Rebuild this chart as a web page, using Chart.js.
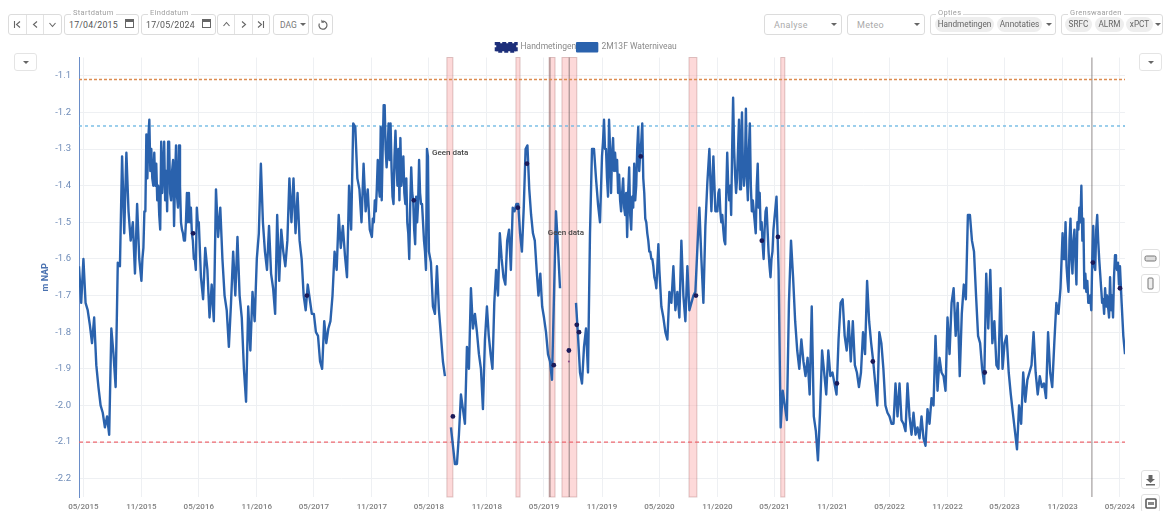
<!DOCTYPE html>
<html>
<head>
<meta charset="utf-8">
<title>2M13F Waterniveau</title>
<script src="https://cdn.jsdelivr.net/npm/chart.js@4/dist/chart.umd.min.js"></script>
<style>
html, body { margin: 0; padding: 0; background: #fff; }
#page { position: relative; width: 1164px; height: 511px; overflow: hidden; font-family: Roboto, sans-serif; color: #777; filter: blur(0.55px); }
#myChart { position: absolute; left: 0; top: 0; }
.box { position: absolute; box-sizing: border-box; background: #fff; border: 1px solid #dcdcdc; border-radius: 3px; font-size: 8.8px; display: flex; align-items: center; justify-content: center; height: 21px; top: 14px; }
.box .cell { flex: 1; border-right: 1px solid #e2e2e2; height: 100%; display: flex; align-items: center; justify-content: center; }
.box .cell:last-child { border-right: 0; }
.box .cell svg { fill: none; stroke: #666; stroke-width: 1.1; }
.field { justify-content: flex-start; padding-left: 4px; color: #555; letter-spacing: .2px; }
.legendlabel { position: absolute; top: 8px; font-size: 7.5px; background: #fff; padding: 0 2px; color: #a0a0a0; letter-spacing: .3px; }
.cal { position: absolute; top: 4px; width: 9px; height: 9px; border: 1.5px solid #666; border-top-width: 3px; box-sizing: border-box; }
.caret { position: absolute; top: 8px; width: 0; height: 0; border-left: 3px solid transparent; border-right: 3px solid transparent; border-top: 3.5px solid #666; }
.chip { position: absolute; top: 2px; height: 15px; line-height: 15px; background: #eeeeee; border-radius: 8px; text-align: center; font-size: 8.2px; color: #666; }
.side { position: absolute; box-sizing: border-box; width: 19px; height: 19px; left: 1141px; background: #fff; border: 1px solid #e0e0e0; border-radius: 3px; display: flex; align-items: center; justify-content: center; }
.drop { position: absolute; box-sizing: border-box; top: 53px; width: 23px; height: 18px; background: #fff; border: 1px solid #e4e4e4; border-radius: 3px; }
.drop .caret { left: 8px; top: 7px; }
</style>
</head>
<body>
<div id="page">
  <canvas id="myChart" width="1164" height="511"></canvas>

  <div class="box" style="left:8px;width:54px">
    <div class="cell"><svg width="9" height="9"><path d="M1.5 1v7M7 1.5L3.5 4.5L7 7.5"/></svg></div>
    <div class="cell"><svg width="9" height="9"><path d="M6 1.5L2.5 4.5L6 7.5"/></svg></div>
    <div class="cell"><svg width="9" height="9"><path d="M1.5 3L4.5 6.5L7.5 3"/></svg></div>
  </div>
  <div class="box field" style="left:64px;width:75px">17/04/2015<span class="cal" style="left:60px"></span></div>
  <span class="legendlabel" style="left:71px">Startdatum</span>
  <div class="box field" style="left:141px;width:75px">17/05/2024<span class="cal" style="left:60px"></span></div>
  <span class="legendlabel" style="left:148px">Einddatum</span>
  <div class="box" style="left:217px;width:53px">
    <div class="cell"><svg width="9" height="9"><path d="M1.5 6L4.5 2.5L7.5 6"/></svg></div>
    <div class="cell"><svg width="9" height="9"><path d="M3 1.5L6.5 4.5L3 7.5"/></svg></div>
    <div class="cell"><svg width="9" height="9"><path d="M7.5 1v7M2 1.5L5.5 4.5L2 7.5"/></svg></div>
  </div>
  <div class="box" style="left:273px;width:36px;justify-content:flex-start;padding-left:6px;font-size:8.5px">DAG<span class="caret" style="left:26px"></span></div>
  <div class="box" style="left:312px;width:21px">
    <svg width="12" height="12" viewBox="0 0 12 12"><path d="M6 2.2a4 4 0 1 1-3.6 2.2" fill="none" stroke="#666" stroke-width="1.2"/><path d="M4.4 0.6v3.2h3z" fill="#666"/></svg>
  </div>

  <div class="box field" style="left:764px;width:78px;padding-left:9px;color:#aaa;letter-spacing:.3px;font-size:9px">Analyse<span class="caret" style="left:66px"></span></div>
  <div class="box field" style="left:847px;width:78px;padding-left:9px;color:#aaa;letter-spacing:.3px;font-size:9px">Meteo<span class="caret" style="left:66px"></span></div>
  <div class="box" style="left:930px;width:126px">
    <span class="chip" style="left:4px;width:59px">Handmetingen</span>
    <span class="chip" style="left:66px;width:45px">Annotaties</span>
    <span class="caret" style="left:115px"></span>
  </div>
  <span class="legendlabel" style="left:936px">Opties</span>
  <div class="box" style="left:1061px;width:102px">
    <span class="chip" style="left:3px;width:27px">SRFC</span>
    <span class="chip" style="left:33px;width:29px">ALRM</span>
    <span class="chip" style="left:64px;width:27px">xPCT</span>
    <span class="caret" style="left:93px"></span>
  </div>
  <span class="legendlabel" style="left:1068px">Grenswaarden</span>

  <div class="drop" style="left:14px"><span class="caret"></span></div>
  <div class="drop" style="left:1139px"><span class="caret"></span></div>

  <div class="side" style="top:249px"><svg width="13" height="9"><rect x="1" y="2" width="11" height="5" rx="1.5" fill="#ddd" stroke="#777"/></svg></div>
  <div class="side" style="top:274px"><svg width="9" height="13"><rect x="2" y="1" width="5" height="11" rx="1" fill="#eee" stroke="#777"/></svg></div>
  <div class="side" style="top:470px"><svg width="11" height="12"><path d="M3.5 1h4v4h2.5l-4.5 4-4.5-4h2.5z" fill="#666"/><rect x="1" y="10" width="9" height="1.5" fill="#666"/></svg></div>
  <div class="side" style="top:494px"><svg width="12" height="11"><rect x="1" y="1" width="10" height="9" rx="1" fill="none" stroke="#555" stroke-width="1.5"/><rect x="3" y="4" width="6" height="3" fill="#888"/></svg></div>
</div>

<script>
// grenswaarden en assen
const yTicks = [-1.1, -1.2, -1.3, -1.4, -1.5, -1.6, -1.7, -1.8, -1.9, -2.0, -2.1, -2.2];
const xTicks = ['2015-05-01', '2015-11-01', '2016-05-01', '2016-11-01', '2017-05-01', '2017-11-01', '2018-05-01',
    '2018-11-01', '2019-05-01', '2019-11-01', '2020-05-01', '2020-11-01', '2021-05-01', '2021-11-01', '2022-05-01',
    '2022-11-01', '2023-05-01', '2023-11-01', '2024-05-01'];
const startDate = '2015-04-17';
const endDate = '2024-05-17';
const srfcLevel = -1.11;
const alrmLevel = -1.237;
const xpctLevel = -2.10;

// waterniveau per periode, de waarden liggen gelijkmatig binnen de periode
const periodStarts = [startDate, ...xTicks];
const level0 = [-1.62, -1.72];
const level1 = [-1.60, -1.72, -1.74, -1.78, -1.83, -1.76, -1.89, -1.95, -2.00, -2.02, -2.06, -2.03, -2.08, -1.79, -1.86, -1.95, -1.61, -1.62, -1.32, -1.53, -1.31, -1.47, -1.55, -1.50, -1.64, -1.45, -1.60];
const level2 = [-1.66, -1.60, -1.57, -1.47, -1.47, -1.26, -1.38, -1.27, -1.22, -1.36, -1.30, -1.38, -1.40, -1.31, -1.40, -1.34, -1.44, -1.40, -1.48, -1.52, -1.28, -1.42, -1.36, -1.28, -1.44, -1.36, -1.47, -1.28, -1.28, -1.42, -1.44, -1.36, -1.33, -1.51, -1.38, -1.29, -1.43, -1.46, -1.29, -1.40, -1.50, -1.52, -1.53, -1.55, -1.55, -1.50, -1.42, -1.50, -1.42, -1.50, -1.46, -1.53, -1.55, -1.60, -1.60, -1.63, -1.46, -1.50];
const level3 = [-1.50, -1.65, -1.71, -1.57, -1.63, -1.76, -1.67, -1.77, -1.41, -1.54, -1.46, -1.60, -1.70, -1.74, -1.84, -1.72, -1.58, -1.70, -1.54, -1.70, -1.76, -1.90, -1.99, -1.73, -1.85, -1.69, -1.77];
const level4 = [-1.60, -1.53, -1.34, -1.50, -1.58, -1.63, -1.51, -1.64, -1.68, -1.75, -1.48, -1.66, -1.52, -1.58, -1.62, -1.55, -1.38, -1.50, -1.38, -1.53, -1.42, -1.55, -1.60, -1.70, -1.74, -1.67, -1.71, -1.75];
const level5 = [-1.75, -1.80, -1.81, -1.88, -1.90, -1.77, -1.83, -1.79, -1.77, -1.70, -1.58, -1.63, -1.48, -1.57, -1.51, -1.59, -1.65, -1.40, -1.52, -1.23, -1.24, -1.38, -1.41, -1.50, -1.34, -1.47, -1.41, -1.52];
const level6 = [-1.54, -1.49, -1.50, -1.44, -1.47, -1.41, -1.33, -1.40, -1.43, -1.24, -1.44, -1.30, -1.18, -1.18, -1.30, -1.35, -1.30, -1.23, -1.33, -1.23, -1.35, -1.43, -1.45, -1.32, -1.25, -1.34, -1.40, -1.30, -1.44, -1.27, -1.40, -1.36, -1.32, -1.42, -1.45, -1.38, -1.50, -1.53, -1.60, -1.45, -1.35, -1.42, -1.44, -1.52, -1.56, -1.43, -1.50, -1.45, -1.33, -1.42, -1.45, -1.45, -1.50, -1.55, -1.58, -1.63, -1.30, -1.32];
const level7 = [-1.58, -1.61, -1.73, -1.75, -1.62, -1.74, -1.81, -1.88, -1.92, null, null, -2.06, -2.11, -2.16, -2.16, -2.08, -1.97, -2.01, -2.05, -1.84, -1.90, -1.68, -1.79, -1.75, -1.80, -1.86, -1.90, -2.01, -1.82];
const level8 = [-1.73, -1.81, -1.86, -1.90, -1.72, -1.63, -1.70, -1.53, -1.60, -1.65, -1.67, -1.55, -1.52, -1.63, -1.46, -1.47, -1.45, -1.45, -1.53, -1.58, -1.46, -1.30, -1.29, -1.41, -1.48, -1.53, -1.55, -1.63, -1.70, -1.64, -1.73];
const level9 = [-1.76, -1.80, -1.86, -1.88, -1.93, -1.70, -1.47, -1.57, -1.68, null, null, null, null, null, null, null, -1.72, -1.81, -1.91, -1.94, -1.84, -1.79, -1.91, -1.53, -1.30, -1.30, -1.38, -1.45, -1.50];
const level10 = [-1.32, -1.28, -1.22, -1.30, -1.30, -1.38, -1.43, -1.22, -1.30, -1.42, -1.32, -1.27, -1.36, -1.31, -1.36, -1.33, -1.42, -1.37, -1.44, -1.47, -1.42, -1.38, -1.46, -1.48, -1.42, -1.54, -1.42, -1.35, -1.48, -1.52, -1.43, -1.46, -1.34, -1.44, -1.40, -1.30, -1.24, -1.36, -1.31, -1.28, -1.23, -1.38, -1.42, -1.49, -1.50, -1.53, -1.55, -1.58, -1.58, -1.60, -1.60, -1.62, -1.65, -1.66, -1.68, -1.62, -1.56];
const level11 = [-1.63, -1.73, -1.76, -1.80, -1.82, -1.69, -1.72, -1.62, -1.74, -1.69, -1.76, -1.55, -1.70, -1.77, -1.62, -1.74, -1.72, -1.70, -1.69, -1.57, -1.46, -1.60, -1.72, -1.51, -1.39, -1.30, -1.47, -1.32, -1.47];
const level12 = [-1.47, -1.42, -1.41, -1.47, -1.50, -1.48, -1.52, -1.55, -1.56, -1.42, -1.31, -1.40, -1.44, -1.40, -1.48, -1.30, -1.16, -1.30, -1.37, -1.42, -1.38, -1.30, -1.22, -1.41, -1.32, -1.20, -1.36, -1.40, -1.35, -1.19, -1.38, -1.44, -1.30, -1.23, -1.40, -1.47, -1.44, -1.47, -1.50, -1.53, -1.40, -1.34, -1.46, -1.42, -1.52, -1.50, -1.56, -1.60, -1.52, -1.47, -1.46, -1.52, -1.58, -1.62, -1.65, -1.60, -1.58, -1.52];
const level13 = [-1.49, -1.43, -1.63, -2.06, -1.96, -2.00, -2.04, -1.72, -1.55, -1.65, -1.77, -1.85, -1.90, -1.82, -1.88, -1.92, -1.87, -1.97, -1.73, -2.03, -2.07, -2.15, -2.02, -1.85, -1.91, -1.97, -1.85, -1.92];
const level14 = [-1.91, -1.94, -1.97, -1.82, -1.72, -1.71, -1.81, -1.85, -1.77, -1.88, -1.77, -1.89, -1.91, -1.95, -1.91, -1.80, -1.86, -1.66, -1.77, -1.83, -1.88, -1.94, -2.00, -1.80, -1.83, -1.90, -2.00, -2.02];
const level15 = [-2.03, -2.05, -2.05, -1.94, -2.03, -1.94, -2.04, -2.05, -2.07, -1.94, -2.03, -2.08, -2.02, -2.08, -2.06, -2.09, -2.03, -2.09, -2.11, -2.01, -2.05, -1.98, -2.00, -1.81, -1.96, -1.87, -1.91, -1.92, -1.96];
const level16 = [-1.76, -1.86, -1.72, -1.68, -1.81, -1.72, -1.92, -1.75, -1.67, -1.71, -1.48, -1.48, -1.55, -1.58, -1.70, -1.81, -1.83, -1.90, -1.94, -1.64, -1.79, -1.63, -1.83, -1.77, -1.89, -1.90, -1.68, -1.90];
const level17 = [-1.83, -1.81, -1.91, -1.97, -2.02, -2.07, -2.12, -2.00, -2.05, -1.91, -1.99, -1.93, -1.91, -1.89, -1.80, -1.91, -1.97, -1.92, -1.95, -1.94, -1.98, -1.80, -1.91, -1.95, -1.83, -1.72, -1.75, -1.68];
const level18 = [-1.53, -1.60, -1.60, -1.50, -1.62, -1.66, -1.69, -1.55, -1.49, -1.60, -1.64, -1.55, -1.52, -1.60, -1.67, -1.50, -1.52, -1.46, -1.50, -1.40, -1.55, -1.49, -1.68, -1.64, -1.69, -1.66, -1.72, -1.72, -1.70, -1.74, -1.60, -1.51, -1.62, -1.63, -1.52, -1.48, -1.55, -1.60, -1.64, -1.68, -1.72, -1.71, -1.75, -1.68, -1.73, -1.70, -1.73, -1.76, -1.65, -1.74, -1.70, -1.76, -1.65, -1.59, -1.61, -1.63, -1.61, -1.67];
const level19 = [-1.62, -1.72, -1.81, -1.86];
const levels = [level0, level1, level2, level3, level4, level5, level6, level7, level8, level9, level10, level11, level12, level13, level14, level15, level16, level17, level18, level19];

// handmetingen
const handDates = ['2016-04-13', '2017-04-09', '2018-03-14', '2018-07-16', '2019-02-07', '2019-03-08', '2019-06-01', '2019-07-19', '2019-07-19', '2019-08-13', '2019-08-20', '2020-03-03', '2020-08-25', '2021-03-22', '2021-05-12', '2021-11-15', '2022-03-09', '2023-02-27', '2024-02-05', '2024-05-01'];
const handValues = [-1.53, -1.70, -1.44, -2.03, -1.46, -1.34, -1.89, -1.85, -1.88, -1.78, -1.80, -1.32, -1.70, -1.55, -1.54, -1.94, -1.88, -1.91, -1.61, -1.68];

// annotaties
const bandStarts = ['2018-06-27', '2019-02-01', '2019-05-17', '2019-06-27', '2020-08-03', '2021-05-21'];
const bandEnds = ['2018-07-16', '2019-02-14', '2019-06-05', '2019-08-13', '2020-08-28', '2021-06-03'];
const markerDates = ['2019-05-20', '2019-07-20', '2024-02-02'];
const noteDates = ['2018-05-11', '2019-05-13'];
const noteValues = [-1.31, -1.53];
const noteText = 'Geen data';

const t = (d) => new Date(d + 'T00:00:00Z').getTime();

const waterPoints = [];
levels.forEach((values, k) => {
    const from = t(periodStarts[k]);
    const to = k + 1 < periodStarts.length ? t(periodStarts[k + 1]) : t(endDate);
    const steps = k + 1 < periodStarts.length ? values.length : values.length - 1;
    values.forEach((y, j) => waterPoints.push({ x: from + (to - from) * j / steps, y: y }));
});

const levelLine = (y, color, dash) => ({
    label: 'grens',
    data: [{ x: t(startDate), y: y }, { x: t(endDate), y: y }],
    borderColor: color,
    borderWidth: 1.3,
    borderDash: dash,
    pointRadius: 0
});

// legenda minder hoog maken zodat het plotvlak hoger begint
const compactLegend = {
    id: 'compactLegend',
    beforeInit(chart) {
        const fit = chart.legend.fit;
        chart.legend.fit = function () {
            fit.call(this);
            this.height -= 4;
        };
    }
};

const annotations = {
    id: 'annotations',
    beforeDatasetsDraw(chart) {
        const { ctx, chartArea, scales } = chart;
        ctx.save();
        bandStarts.forEach((d, i) => {
            const x1 = scales.x.getPixelForValue(t(d));
            const x2 = scales.x.getPixelForValue(t(bandEnds[i]));
            ctx.fillStyle = 'rgba(250, 170, 170, 0.45)';
            ctx.strokeStyle = 'rgba(160, 100, 100, 0.35)';
            ctx.fillRect(x1, chartArea.top, x2 - x1, chartArea.height);
            ctx.strokeRect(x1, chartArea.top, x2 - x1, chartArea.height);
        });
        markerDates.forEach((d) => {
            const x = scales.x.getPixelForValue(t(d));
            ctx.strokeStyle = 'rgba(90, 80, 80, 0.55)';
            ctx.lineWidth = 1.2;
            ctx.beginPath();
            ctx.moveTo(x, chartArea.top);
            ctx.lineTo(x, chartArea.bottom);
            ctx.stroke();
        });
        ctx.restore();
    },
    afterDatasetsDraw(chart) {
        const { ctx, scales } = chart;
        ctx.save();
        ctx.fillStyle = '#444';
        ctx.font = '500 8px Roboto';
        ctx.textBaseline = 'middle';
        noteDates.forEach((d, i) => {
            ctx.fillText(noteText, scales.x.getPixelForValue(t(d)), scales.y.getPixelForValue(noteValues[i]));
        });
        ctx.restore();
    }
};

new Chart(document.getElementById('myChart').getContext('2d'), {
    type: 'line',
    data: {
        datasets: [
            {
                label: 'Handmetingen',
                data: handDates.map((d, i) => ({ x: t(d), y: handValues[i] })),
                showLine: false,
                pointRadius: (c) => (c.dataIndex === 8 ? 1 : 2.4), // de meting bij 07/2019 is kleiner getekend
                pointBackgroundColor: (c) => (c.dataIndex === 8 ? '#8a4a8a' : '#1b1b5a'),
                pointBorderWidth: 0,
                backgroundColor: '#1d2f7a',
                borderColor: '#1d2f7a',
                borderWidth: 3,
                borderDash: [4, 2]
            },
            {
                label: '2M13F Waterniveau',
                data: waterPoints,
                borderColor: '#2a62ad',
                backgroundColor: '#2a62ad',
                borderWidth: 2.4,
                borderJoinStyle: 'round',
                pointRadius: 0,
                tension: 0,
                spanGaps: false
            },
            levelLine(srfcLevel, '#dc8c50', [3, 2]),
            levelLine(alrmLevel, '#68b6e2', [3, 3]),
            levelLine(xpctLevel, '#ee6870', [4, 3])
        ]
    },
    options: {
        responsive: false,
        animation: false,
        layout: { padding: { left: 48, right: 39, top: 42, bottom: 0 } },
        plugins: {
            tooltip: { enabled: false },
            legend: {
                position: 'top',
                labels: {
                    boxWidth: 20,
                    boxHeight: 8,
                    padding: 1,
                    color: '#8a8a8a',
                    font: { family: 'Roboto', size: 8.5 },
                    filter: (item) => item.text !== 'grens'
                }
            }
        },
        scales: {
            x: {
                type: 'linear',
                min: t(startDate),
                max: t(endDate),
                afterBuildTicks: (scale) => { scale.ticks = xTicks.map((d) => ({ value: t(d) })); },
                afterFit: (scale) => { scale.height = 14; },
                ticks: {
                    autoSkip: false,
                    maxRotation: 0,
                    padding: 5,
                    color: '#808080',
                    font: { family: 'Roboto', size: 8, weight: '500' },
                    callback: (value) => {
                        const d = new Date(value);
                        return String(d.getUTCMonth() + 1).padStart(2, '0') + '/' + d.getUTCFullYear();
                    }
                },
                grid: { color: '#eef0f3', drawTicks: false },
                border: { display: false }
            },
            y: {
                min: -2.25,
                max: -1.05,
                afterBuildTicks: (scale) => { scale.ticks = yTicks.map((v) => ({ value: v })); },
                afterFit: (scale) => { scale.width = 31; },
                title: {
                    display: true,
                    text: 'm NAP',
                    color: '#4a72b0',
                    font: { family: 'Roboto', size: 9, weight: 'bold' },
                    padding: { top: -8, bottom: 0 }
                },
                ticks: {
                    padding: 8,
                    color: '#6f8cb8',
                    font: { family: 'Roboto', size: 9.5 },
                    callback: (value) => value.toFixed(1)
                },
                grid: { color: '#eef0f3', drawTicks: false },
                border: { color: '#6a8dc8', width: 1 }
            }
        }
    },
    plugins: [compactLegend, annotations]
});
</script>
</body>
</html>
